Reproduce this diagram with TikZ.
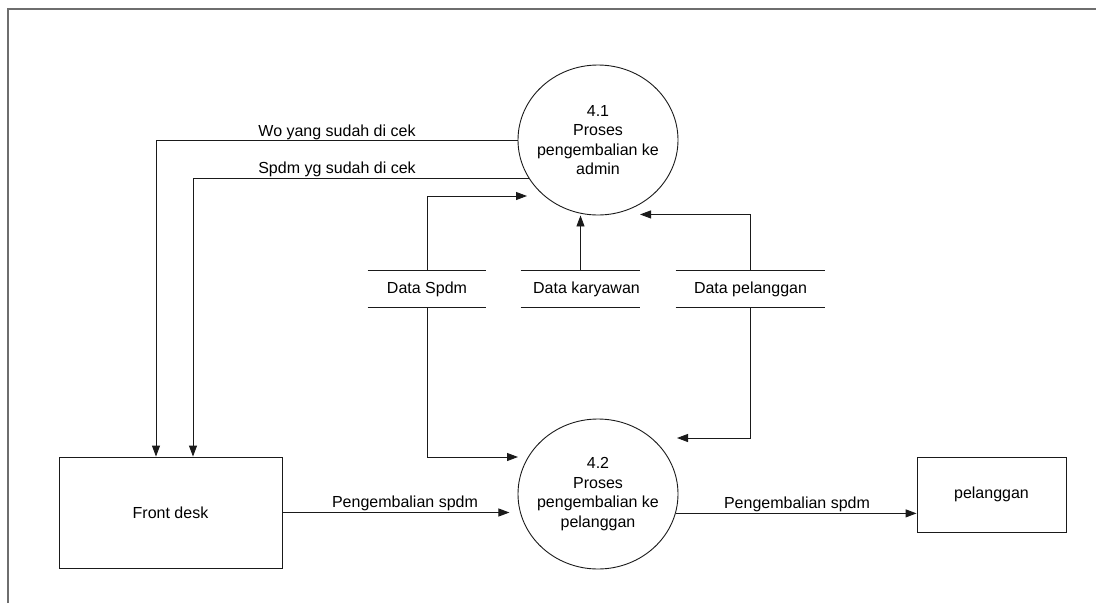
\documentclass[tikz,border=0pt]{standalone}
\usepackage{fontspec}
\setmainfont{Liberation Sans}
\usepackage{tikz}
\usetikzlibrary{arrows.meta,positioning,calc,shapes.geometric}
\definecolor{dLine}{HTML}{1A1A1A}
\definecolor{dFrame}{HTML}{6E6E6E}
\newcommand{\dfdfont}{\fontsize{16}{19.5}\selectfont}
\tikzset{
  proc/.style  = {ellipse, draw=dLine, align=center, inner xsep=-8pt, inner ysep=0pt,
                  minimum width=160pt, minimum height=150pt, font=\dfdfont},
  ent/.style   = {draw=dLine, inner sep=0pt, font=\dfdfont},
  store/.style = {inner sep=0pt, minimum height=36pt, font=\dfdfont},
  ar/.style    = {-{Triangle[length=11pt,width=8pt]}, draw=dLine, line width=0.9pt},
  lbl/.style   = {anchor=base, inner sep=0pt, font=\dfdfont},
}

\begin{document}
\begin{tikzpicture}[x=1pt, y=-1pt, line width=0.9pt]
  \useasboundingbox (0,0) rectangle (1096,603);
  \draw[dFrame, line width=1.5pt] (8,603) -- (8,9) -- (1096,9);

  % processes and entities
  \node[proc] (p41) at (598,140) {4.1\\Proses\\pengembalian ke\\admin};
  \node[proc] (p42) at (598,494) {4.2\\Proses\\pengembalian ke\\pelanggan};
  \node[ent, minimum width=223pt, minimum height=111pt] (fd) at (170.5,512.5) {Front desk};
  \node[ent, minimum width=149pt, minimum height=75pt]  (pl) at (991.5,494.5) {pelanggan};

  % data stores
  \node[store, minimum width=118pt] (dsp) at (427,289)   {Data Spdm};
  \node[store, minimum width=117pt] (dka) at (580.5,289) {\hspace{12pt}Data karyawan};
  \node[store, minimum width=149pt] (dpl) at (750.5,289) {Data pelanggan};
  \foreach \s in {dsp,dka,dpl}
    \draw[dLine] (\s.north west) -- (\s.north east) (\s.south west) -- (\s.south east);

  % flows to front desk
  \coordinate (woX) at (156,0);
  \coordinate (spX) at (193,0);
  \draw[ar] (p41.west) -| (fd.north -| woX);
  \draw[ar] (p41.209)  -| (fd.north -| spX);
  \node[lbl] (lWo) at (337,136) {Wo yang sudah di cek};
  \node[lbl] (lSp) at (337,173) {Spdm yg sudah di cek};

  % flows from data stores
  \draw[ar] (dsp.north) |- ($(p41.center)+(-71,56)$);
  \draw[ar] (dka.north) -- (dka.north |- p41.south);
  \draw[ar] (dpl.north) |- ($(p41.south)+(42,-1)$);
  \draw[ar] (dsp.south) |- ($(p42.center)+(-80,-37)$);
  \draw[ar] (dpl.south) |- ($(p42.center)+(79,-56)$);

  % return flows
  \draw[ar] (fd.east) -- ++(227,0);
  \draw[ar] (p42.-14) -- (pl.west |- p42.-14);
  \node[lbl] (lFd) at (405,507) {Pengembalian spdm};
  \node[lbl] (lPl) at (797,508) {Pengembalian spdm};
\end{tikzpicture}
\end{document}
